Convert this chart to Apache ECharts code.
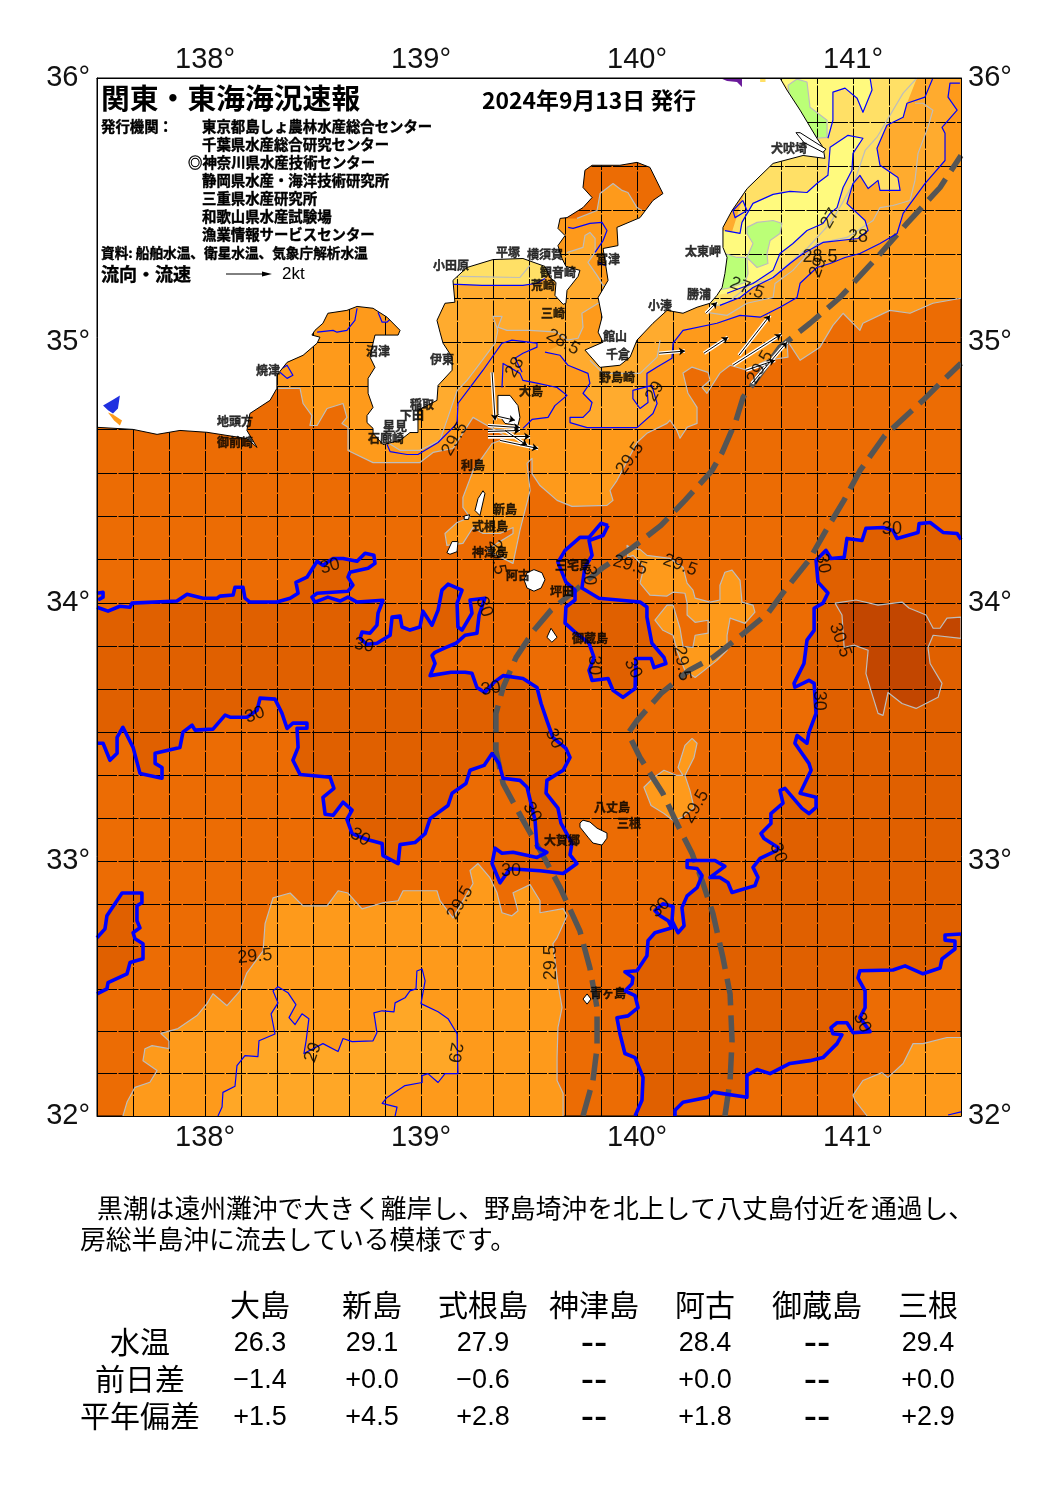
<!DOCTYPE html>
<html><head><meta charset="utf-8">
<style>html,body{margin:0;padding:0;background:#fff}#c{width:1064px;height:1505px}</style>
<script src="https://cdn.jsdelivr.net/npm/echarts@6/dist/echarts.min.js"></script>
</head><body><div id="c"></div>
<script>
// ---------- ticks ----------
const lonLabels=[138,139,140,141];
const latLabels=[32,33,34,35,36];
const gridLons=[137.667,137.833,138,138.167,138.333,138.5,138.667,138.833,139,139.167,139.333,139.5,139.667,139.833,140,140.167,140.333,140.5,140.667,140.833,141,141.167,141.333];
const gridLats=[32.167,32.333,32.5,32.667,32.833,33,33.167,33.333,33.5,33.667,33.833,34,34.167,34.333,34.5,34.667,34.833,35,35.167,35.333,35.5,35.667,35.833];
// ---------- 30 degree contours ----------
const c30West=[[137.5,33.984],[137.551,33.969],[137.606,33.988],[137.653,33.984],[137.662,34],[137.87,34.008],[137.917,34.034],[137.991,34.019],[138.056,34.019],[138.069,34.027],[138.13,34.031],[138.139,34.061],[138.176,34.061],[138.185,34.019],[138.208,34.004],[138.333,34.004],[138.394,34.019],[138.431,34.038],[138.421,34.08],[138.472,34.1],[138.519,34.161],[138.546,34.146],[138.593,34.172],[138.639,34.172],[138.704,34.161],[138.741,34.192],[138.782,34.184],[138.787,34.153],[138.755,34.134],[138.671,34.119],[138.662,34.1],[138.685,34.069],[138.662,34.046],[138.519,34.038],[138.495,34.023],[138.509,34.004],[138.569,34.023],[138.625,34.008],[138.662,34.023],[138.704,34.004],[138.824,34.011],[138.801,33.961],[138.796,33.915],[138.764,33.884],[138.727,33.888],[138.718,33.864],[138.75,33.841],[138.796,33.845],[138.857,33.876],[138.866,33.946],[138.903,33.95],[138.912,33.908],[138.949,33.896],[138.995,33.908],[139.009,33.969],[139.051,33.915],[139.079,33.973],[139.097,34.05],[139.125,34.073],[139.19,34.05],[139.167,34],[139.171,33.908],[139.19,33.896],[139.236,33.961],[139.227,34.012],[139.296,34.019],[139.269,33.954],[139.259,33.884],[139.204,33.876],[139.162,33.845],[139.116,33.829],[139.065,33.81],[139.051,33.798],[139.065,33.767],[139.042,33.72],[139.139,33.733],[139.204,33.733],[139.236,33.729],[139.259,33.674],[139.296,33.655],[139.338,33.694],[139.38,33.72],[139.472,33.709],[139.537,33.674],[139.556,33.612],[139.583,33.546],[139.611,33.48],[139.671,33.438],[139.69,33.403],[139.658,33.353],[139.583,33.314],[139.579,33.264],[139.634,33.206],[139.648,33.148],[139.699,33.07],[139.69,33.024],[139.722,32.99],[139.658,32.951],[139.551,32.962],[139.412,32.97],[139.366,32.915],[139.329,32.99],[139.343,33.05],[139.375,33.03],[139.426,33.034],[139.537,33.014],[139.583,33.034],[139.537,33.053],[139.528,33.159],[139.491,33.287],[139.458,33.314],[139.38,33.322],[139.361,33.38],[139.329,33.418],[139.292,33.372],[139.227,33.353],[139.208,33.302],[139.144,33.264],[139.125,33.216],[139.042,33.165],[139.019,33.107],[138.972,33.072],[138.903,33.064],[138.894,32.99],[138.824,33.021],[138.82,33.068],[138.75,33.084],[138.681,33.107],[138.657,33.162],[138.681,33.198],[138.639,33.229],[138.593,33.178],[138.556,33.182],[138.546,33.248],[138.597,33.283],[138.579,33.326],[138.44,33.337],[138.407,33.392],[138.431,33.442],[138.426,33.516],[138.472,33.516],[138.472,33.536],[138.407,33.536],[138.38,33.516],[138.356,33.575],[138.324,33.629],[138.255,33.633],[138.241,33.586],[138.194,33.559],[138.116,33.559],[138.093,33.567],[138.037,33.513],[137.954,33.509],[137.94,33.528],[137.898,33.501],[137.884,33.442],[137.769,33.419],[137.769,33.38],[137.801,33.364],[137.801,33.322],[137.699,33.341],[137.667,33.442],[137.62,33.52],[137.593,33.481],[137.593,33.419],[137.56,33.392],[137.528,33.458],[137.5,33.458]];
const c30Corner=[[137.5,34.038],[137.528,34.042],[137.528,34.023],[137.505,34.012]];
const c30SW=[[137.5,32.7],[137.537,32.735],[137.546,32.786],[137.616,32.875],[137.708,32.875],[137.708,32.837],[137.685,32.825],[137.685,32.767],[137.699,32.739],[137.667,32.72],[137.676,32.696],[137.713,32.677],[137.713,32.618],[137.653,32.603],[137.639,32.559],[137.551,32.524],[137.546,32.5],[137.5,32.48]];
const c30Miyake=[[139.866,34.299],[139.833,34.307],[139.778,34.253],[139.736,34.253],[139.667,34.203],[139.634,34.157],[139.671,34.081],[139.713,34.05],[139.713,34.012],[139.671,33.985],[139.667,33.923],[139.713,33.888],[139.778,33.845],[139.801,33.79],[139.778,33.74],[139.792,33.701],[139.866,33.709],[139.889,33.663],[139.935,33.636],[139.991,33.67],[139.995,33.786],[140.065,33.786],[140.079,33.751],[140.134,33.767],[140.125,33.79],[140.069,33.845],[140.046,33.946],[140.046,33.985],[140.014,34.004],[139.824,34.019],[139.745,34.058],[139.759,34.138],[139.792,34.184],[139.778,34.241],[139.843,34.26],[139.866,34.299]];
const c30East=[[141.5,34.245],[141.482,34.268],[141.417,34.272],[141.357,34.31],[141.306,34.306],[141.301,34.272],[141.204,34.249],[141.185,34.28],[141.139,34.291],[141.06,34.288],[141.042,34.241],[140.972,34.249],[140.959,34.176],[140.898,34.172],[140.875,34.203],[140.829,34.165],[140.838,34.081],[140.884,34.039],[140.861,34],[140.82,33.98],[140.82,33.895],[140.787,33.857],[140.773,33.767],[140.727,33.69],[140.731,33.675],[140.796,33.702],[140.82,33.69],[140.829,33.574],[140.796,33.5],[140.787,33.458],[140.741,33.488],[140.731,33.458],[140.796,33.38],[140.806,33.353],[140.755,33.264],[140.829,33.248],[140.829,33.209],[140.796,33.185],[140.764,33.205],[140.685,33.283],[140.662,33.275],[140.676,33.225],[140.62,33.185],[140.62,33.146],[140.574,33.107],[140.588,33.088],[140.653,33.053],[140.648,33.041],[140.57,33.01],[140.537,32.975],[140.56,32.936],[140.546,32.904],[140.44,32.877],[140.421,32.916],[140.384,32.936],[140.338,32.936],[140.407,32.979],[140.361,33.002],[140.232,33.002],[140.232,32.975],[140.278,32.971],[140.301,32.943],[140.278,32.896],[140.232,32.864],[140.208,32.818],[140.218,32.747],[140.19,32.72],[140.162,32.767],[140.167,32.822],[140.12,32.833],[140.083,32.806],[140.107,32.786],[140.144,32.767],[140.162,32.739],[140.083,32.72],[140.051,32.689],[140.046,32.63],[140,32.571],[139.944,32.567],[139.981,32.544],[139.977,32.52],[139.944,32.492],[139.991,32.473],[140.005,32.426],[139.958,32.394],[139.907,32.387],[139.921,32.324],[139.944,32.246],[139.991,32.23],[140.028,32.152],[140.023,32.062],[139.991,32]];
const c30SE=[[140.176,32],[140.176,32.023],[140.213,32.054],[140.329,32.074],[140.352,32.094],[140.509,32.074],[140.509,32.16],[140.556,32.183],[140.616,32.167],[140.708,32.207],[140.801,32.218],[140.861,32.23],[140.926,32.285],[140.949,32.32],[140.907,32.324],[140.898,32.348],[140.926,32.367],[140.972,32.367],[141,32.328],[141.079,32.332],[141.032,32.387],[141.056,32.426],[141.056,32.492],[141.023,32.543],[141.032,32.571],[141.185,32.574],[141.241,32.59],[141.324,32.559],[141.403,32.582],[141.412,32.617],[141.472,32.656],[141.472,32.687],[141.426,32.691],[141.426,32.711],[141.5,32.715]];
const c305=[[140.917,34],[141.014,34.012],[141.116,33.992],[141.227,34.004],[141.259,33.981],[141.338,33.954],[141.371,33.903],[141.403,33.903],[141.435,33.942],[141.5,33.946],[141.5,33.864],[141.371,33.876],[141.347,33.829],[141.357,33.767],[141.412,33.69],[141.394,33.636],[141.292,33.593],[141.227,33.612],[141.162,33.655],[141.139,33.566],[141.116,33.574],[141.083,33.663],[141.06,33.728],[141.07,33.818],[141.005,33.838],[140.959,33.829],[140.949,33.954],[140.917,34]];
// ---------- 29.5 degree contours ----------
const c295East=[[140.014,34.077],[140.032,34.138],[139.982,34.184],[139.958,34.176],[139.954,34.222],[139.977,34.211],[140.014,34.207],[140.046,34.184],[140.153,34.172],[140.213,34.138],[140.232,34.077],[140.259,34.05],[140.269,34.019],[140.338,34.004],[140.384,34.012],[140.384,34.069],[140.407,34.119],[140.44,34.127],[140.477,34.088],[140.486,34.004],[140.537,33.992],[140.546,33.965],[140.5,33.922],[140.431,33.942],[140.417,33.876],[140.417,33.818],[140.37,33.779],[140.269,33.713],[140.222,33.74],[140.185,33.818],[140.167,33.876],[140.12,33.895],[140.083,33.934],[140.139,33.992],[140.167,33.992],[140.199,33.903],[140.213,33.833],[140.259,33.829],[140.269,33.876],[140.329,33.884],[140.329,33.934],[140.269,33.926],[140.232,33.954],[140.232,34],[140.222,34.038],[140.167,34.042],[140.139,34.027],[140.06,34.031],[140.014,34.077]];
const c295Hachijo=[[140.255,33.477],[140.278,33.458],[140.264,33.403],[140.222,33.333],[140.245,33.275],[140.264,33.209],[140.208,33.17],[140.167,33.158],[140.125,33.185],[140.065,33.216],[140.032,33.287],[140.079,33.326],[140.125,33.353],[140.185,33.333],[140.213,33.333],[140.19,33.364],[140.222,33.45],[140.255,33.477]];
const c295SE=[[141.5,32.309],[141.435,32.309],[141.324,32.285],[141.278,32.285],[141.232,32.207],[141.162,32.152],[141.134,32.171],[141.046,32.14],[141,32.082],[141.009,32.062],[141.065,32]];
const c295South=[[137.62,32],[137.639,32.055],[137.676,32.113],[137.745,32.133],[137.778,32.179],[137.713,32.218],[137.722,32.265],[137.755,32.277],[137.833,32.265],[137.833,32.296],[137.796,32.325],[137.875,32.344],[137.963,32.395],[138.009,32.442],[138.037,32.481],[138.102,32.434],[138.162,32.492],[138.194,32.563],[138.269,32.649],[138.278,32.755],[138.315,32.856],[138.394,32.875],[138.454,32.825],[138.565,32.825],[138.616,32.884],[138.662,32.875],[138.727,32.813],[138.824,32.837],[138.894,32.845],[138.917,32.884],[139.074,32.884],[139.088,32.845],[139.148,32.778],[139.241,32.912],[139.227,32.963],[139.264,32.99],[139.319,32.935],[139.352,32.876],[139.375,32.798],[139.421,32.786],[139.449,32.806],[139.426,32.876],[139.505,32.908],[139.551,32.845],[139.551,32.798],[139.658,32.814],[139.676,32.786],[139.63,32.7],[139.611,32.677],[139.634,32.52],[139.653,32.426],[139.634,32.348],[139.63,32.23],[139.63,32.14],[139.658,32.089],[139.658,32]];
const c295North=[[138.338,34.824],[138.44,34.824],[138.454,34.766],[138.495,34.72],[138.486,34.682],[138.519,34.682],[138.565,34.747],[138.639,34.766],[138.657,34.713],[138.634,34.69],[138.662,34.675],[138.662,34.586],[138.778,34.54],[138.995,34.54],[139.056,34.579],[139.148,34.594],[139.241,34.713],[139.306,34.682],[139.403,34.636],[139.329,34.613],[139.241,34.509],[139.194,34.406],[139.194,34.368],[139.227,34.33],[139.167,34.31],[139.111,34.268],[139.12,34.222],[139.194,34.23],[139.241,34.291],[139.287,34.268],[139.366,34.268],[139.426,34.291],[139.426,34.268],[139.352,34.23],[139.306,34.203],[139.426,34.153],[139.458,34.28],[139.505,34.433],[139.491,34.537],[139.514,34.556],[139.514,34.498],[139.551,34.452],[139.63,34.395],[139.699,34.372],[139.861,34.376],[139.889,34.395],[139.875,34.433],[139.907,34.471],[140,34.617],[140.046,34.652],[140.139,34.69],[140.153,34.702],[140.185,34.663],[140.199,34.633],[140.232,34.675],[140.278,34.69],[140.278,34.751],[140.236,34.805],[140.213,34.882],[140.255,34.905],[140.329,34.885],[140.338,34.855],[140.301,34.828],[140.324,34.805],[140.384,34.882],[140.431,34.912],[140.509,34.893],[140.602,34.931],[140.699,34.943],[140.694,35.008],[140.755,34.931],[140.847,34.981],[140.907,35.064],[140.954,35.11],[141.032,35.045],[141.046,35.072],[141.171,35.121],[141.264,35.11],[141.37,35.148],[141.5,35.167]];
const c295Bay=[[139.722,35.47],[139.815,35.5],[139.829,35.564],[139.889,35.602],[139.931,35.576],[139.958,35.568],[140,35.511],[140.023,35.5]];
// ---------- 29 degree contours ----------
const c29South=[[138.06,32],[138.079,32.035],[138.083,32.093],[138.139,32.117],[138.148,32.198],[138.185,32.238],[138.245,32.234],[138.25,32.296],[138.324,32.323],[138.306,32.402],[138.338,32.445],[138.315,32.492],[138.338,32.508],[138.384,32.485],[138.421,32.438],[138.389,32.387],[138.417,32.36],[138.449,32.402],[138.481,32.383],[138.468,32.296],[138.458,32.246],[138.546,32.285],[138.616,32.254],[138.639,32.305],[138.681,32.293],[138.778,32.296],[138.796,32.328],[138.782,32.406],[138.82,32.414],[138.875,32.41],[138.88,32.445],[138.926,32.465],[138.949,32.492],[138.977,32.5],[138.981,32.57],[139.005,32.578],[139.019,32.531],[139,32.442],[139.079,32.41],[139.125,32.383],[139.167,32.324],[139.171,32.167],[139.111,32.167],[139.079,32.132],[139.032,32.167],[139.005,32.159],[139.005,32.132],[138.926,32.12],[138.843,32.073],[138.82,32.05],[138.889,32.035],[138.88,32]];
const c29Izu=[[138.843,34.609],[138.857,34.582],[138.935,34.571],[138.986,34.571],[139.079,34.617],[139.167,34.69],[139.171,34.766],[139.241,34.843],[139.287,34.893],[139.375,34.996],[139.421,35.008],[139.537,34.996],[139.537,34.981],[139.472,34.958],[139.435,34.939],[139.468,34.885]];
const c29Boso1=[[139.574,34.962],[139.644,34.95],[139.681,34.912],[139.773,34.881],[139.782,34.843],[139.75,34.805],[139.792,34.77],[139.782,34.74],[139.75,34.713],[139.69,34.713],[139.69,34.693],[139.769,34.674],[140,34.674],[140.074,34.728],[140.093,34.766],[140.069,34.835]];
const c29Loop=[[140.069,34.835],[139.981,34.816],[139.981,34.785],[140.014,34.747],[140.051,34.77],[140.046,34.835]];
const c29Boso2=[[140.046,34.835],[140.046,34.881],[140.093,34.905],[140.162,34.939],[140.167,34.996],[140.213,35.045],[140.37,35.072],[140.477,35.102],[140.57,35.095],[140.662,35.133],[140.741,35.17],[140.755,35.224],[140.833,35.284],[140.894,35.299],[140.963,35.322],[141.032,35.337],[141.125,35.375],[141.204,35.413],[141.232,35.489],[141.333,35.602],[141.426,35.689],[141.426,35.792],[141.412,35.814],[141.482,35.879],[141.44,35.928],[141.449,35.981],[141.495,35.981]];
const c29Oshima=[[139.472,34.671],[139.514,34.705],[139.588,34.713],[139.62,34.758],[139.676,34.797],[139.63,34.827],[139.542,34.843],[139.472,34.854],[139.458,34.881],[139.38,34.919],[139.375,34.827]];
const c29Bay=[[139.681,35.436],[139.704,35.432],[139.782,35.451],[139.838,35.455],[139.861,35.424],[139.843,35.386],[139.806,35.341]];
const c29Bay2=[[139.819,35.303],[139.852,35.292]];
const c29Suruga1=[[138.519,35.038],[138.593,35.045],[138.611,35.038],[138.657,35.045],[138.694,35.083],[138.704,35.129]];
const c29Suruga2=[[138.801,35.114],[138.82,35.076],[138.843,35.076],[138.866,35.095]];
const c29Yaizu=[[138.343,34.893],[138.38,34.912],[138.407,34.874],[138.38,34.862],[138.347,34.885]];
const c29Corner=[[141.44,32.004],[141.5,32.016]];
// ---------- 28.5 and colder ----------
const c285Sagami=[[138.843,34.618],[138.903,34.587],[138.995,34.587],[139.088,34.625],[139.167,34.815],[139.213,34.854],[139.259,34.904],[139.343,34.996],[139.356,35.045],[139.333,35.098],[139.375,35.098],[139.356,35.057],[139.398,35.045],[139.505,35.045],[139.63,35.038],[139.676,35.008],[139.727,35.015],[139.75,35.057],[139.745,35.11],[139.82,35.148],[139.857,35.14],[139.875,35.216],[139.843,35.216],[139.815,35.254],[139.773,35.303],[139.806,35.341],[139.806,35.394],[139.782,35.417],[139.759,35.405],[139.75,35.36],[139.704,35.348],[139.676,35.341]];
const c285BosoEast=[[141.287,35.905],[141.324,35.905],[141.37,35.879],[141.347,35.814],[141.301,35.716],[141.287,35.614],[141.264,35.538],[141.185,35.519],[141.125,35.511],[141.093,35.462],[140.972,35.398],[140.833,35.375],[140.722,35.273],[140.639,35.223],[140.63,35.17],[140.509,35.148],[140.417,35.102],[140.315,35.114]];
const c285BosoInner=[[141.296,36],[141.232,35.943],[141.111,35.777],[141.056,35.727],[141.009,35.614],[140.949,35.526],[140.894,35.451],[140.787,35.356],[140.676,35.28],[140.616,35.235],[140.537,35.227],[140.477,35.189],[140.417,35.148],[140.338,35.133]];
const c285BosoSouth=[[139.782,34.931],[139.843,34.881],[140.014,34.881],[140.093,34.943],[140.107,35.008]];
const c28Sagami=[[139.144,35.22],[139.171,35.22],[139.282,35.216],[139.389,35.216],[139.472,35.216],[139.537,35.224],[139.574,35.242]];
const c28SagamiGray=[[139.181,35.25],[139.458,35.246],[139.505,35.292]];
const c28Boso=[[141.37,36],[141.333,35.928],[141.25,35.905],[141.232,35.852],[141.157,35.822],[141.111,35.735],[141.125,35.671],[141.208,35.625],[141.218,35.576],[141.125,35.576],[141.116,35.614],[141.07,35.583],[141.032,35.633],[141,35.602],[140.972,35.526],[141.056,35.462],[141.07,35.424],[141.023,35.394],[140.861,35.379],[140.769,35.337],[140.708,35.299],[140.63,35.246],[140.537,35.208],[140.477,35.17],[140.384,35.14]];
const c27Top=[[141.079,36],[141.088,35.955],[141.046,35.871],[141.019,35.924],[140.963,35.962],[140.907,35.947],[140.907,35.841],[140.884,35.773]];
const c27Main=[[140.407,35.424],[140.477,35.413],[140.486,35.455],[140.537,35.527],[140.63,35.561],[140.708,35.572],[140.787,35.568],[140.833,35.602],[140.884,35.633],[140.894,35.739],[140.977,35.784],[141.046,35.773],[141,35.716],[140.995,35.652],[140.954,35.587],[140.926,35.511],[140.894,35.489],[140.861,35.451],[140.787,35.424],[140.722,35.375],[140.662,35.337],[140.63,35.273],[140.537,35.223],[140.477,35.205],[140.417,35.186]];
const c27Loop=[[140.49,35.538],[140.509,35.5],[140.454,35.473],[140.444,35.5],[140.49,35.538]];
const c265A=[[140.509,35.436],[140.556,35.455],[140.63,35.462],[140.671,35.451],[140.662,35.413],[140.616,35.386],[140.602,35.337],[140.606,35.299],[140.556,35.284],[140.509,35.322],[140.537,35.375],[140.509,35.413],[140.509,35.436]];
const c265B=[[140.407,35.337],[140.463,35.322],[140.509,35.322],[140.514,35.261],[140.5,35.227],[140.421,35.205],[140.361,35.197],[140.361,35.337]];
const c265C=[[140.699,35.973],[140.741,35.996],[140.787,35.985],[140.801,35.89],[140.88,35.841],[140.88,35.776],[140.833,35.773],[140.708,35.917],[140.699,35.973]];
// ---------- land ----------
const honshu=[[137.5,34.675],[137.667,34.667],[137.778,34.648],[137.884,34.663],[138.009,34.656],[138.194,34.632],[138.241,34.598],[138.194,34.663],[138.208,34.728],[138.301,34.778],[138.333,34.824],[138.333,34.874],[138.38,34.923],[138.454,34.95],[138.519,34.996],[138.532,35.019],[138.495,35.027],[138.509,35.045],[138.546,35.072],[138.569,35.11],[138.657,35.121],[138.704,35.136],[138.778,35.129],[138.843,35.095],[138.903,35.045],[138.894,35.027],[138.787,35.027],[138.778,34.996],[138.764,34.943],[138.787,34.904],[138.755,34.862],[138.755,34.805],[138.778,34.751],[138.75,34.72],[138.75,34.693],[138.778,34.671],[138.778,34.652],[138.824,34.609],[138.903,34.625],[138.949,34.655],[138.986,34.655],[138.986,34.74],[139.074,34.778],[139.079,34.835],[139.144,34.893],[139.144,34.943],[139.102,34.996],[139.088,35.038],[139.074,35.083],[139.111,35.148],[139.157,35.152],[139.148,35.235],[139.213,35.284],[139.333,35.314],[139.472,35.318],[139.574,35.288],[139.597,35.246],[139.625,35.227],[139.62,35.178],[139.658,35.144],[139.671,35.148],[139.676,35.197],[139.727,35.25],[139.736,35.273],[139.671,35.288],[139.653,35.318],[139.634,35.367],[139.667,35.405],[139.634,35.432],[139.644,35.47],[139.676,35.473],[139.75,35.511],[139.792,35.549],[139.75,35.587],[139.759,35.652],[139.792,35.671],[139.921,35.671],[140,35.682],[140.06,35.663],[140.12,35.564],[140.074,35.538],[140.014,35.473],[139.907,35.436],[139.912,35.367],[139.843,35.356],[139.866,35.235],[139.82,35.17],[139.838,35.095],[139.82,35.038],[139.843,35],[139.759,34.97],[139.829,34.904],[139.921,34.912],[139.968,34.943],[140,35.008],[140.074,35.072],[140.139,35.121],[140.213,35.11],[140.278,35.133],[140.338,35.148],[140.37,35.178],[140.394,35.208],[140.407,35.261],[140.417,35.322],[140.398,35.36],[140.398,35.436],[140.44,35.5],[140.51,35.583],[140.63,35.678],[140.769,35.708],[140.87,35.697],[140.861,35.739],[140.833,35.773],[140.755,35.879],[140.694,35.955],[140.662,36],[137.5,36]];
const islandOshima=[[139.356,34.797],[139.412,34.797],[139.449,34.758],[139.458,34.713],[139.449,34.682],[139.389,34.69],[139.356,34.728]];
const islandNiijima=[[139.287,34.432],[139.264,34.402],[139.25,34.356],[139.273,34.337],[139.296,34.421]];
const islandKozu=[[139.12,34.194],[139.144,34.237],[139.171,34.237],[139.167,34.198],[139.134,34.188]];
const islandShikine=[[139.2,34.335],[139.225,34.34],[139.22,34.322],[139.2,34.322]];
const islandMiyake=[[139.523,34.129],[139.56,34.117],[139.574,34.09],[139.556,34.058],[139.523,34.046],[139.491,34.058],[139.477,34.09],[139.491,34.117]];
const islandMikura=[[139.602,33.903],[139.63,33.868],[139.606,33.849],[139.583,33.868]];
const islandHachijo=[[139.736,33.148],[139.75,33.159],[139.782,33.152],[139.815,33.128],[139.861,33.109],[139.861,33.089],[139.838,33.062],[139.796,33.07],[139.773,33.093],[139.736,33.132]];
const islandAoga=[[139.769,32.48],[139.787,32.46],[139.769,32.44],[139.75,32.46]];
const islandTone=[[140.736,35.794],[140.755,35.794],[140.875,35.732],[140.861,35.72],[140.773,35.757]];
const lakeHamana=[[137.528,34.758],[137.57,34.778],[137.606,34.797],[137.597,34.747],[137.574,34.728],[137.551,34.74]];
const lakeHamanaSouth=[[137.551,34.732],[137.574,34.724],[137.616,34.701],[137.606,34.682],[137.579,34.701]];
const inlandPurple=[[140.384,36],[140.486,36],[140.486,35.966],[140.463,35.985],[140.417,35.989]];
const inlandYellow=[[140.57,36],[140.595,36],[140.595,35.985],[140.57,35.985]];
// ---------- Kuroshio axes ----------
const kuroshioInner=[[139.75,32],[139.796,32.14],[139.815,32.269],[139.815,32.425],[139.782,32.582],[139.736,32.726],[139.644,32.896],[139.565,33.021],[139.472,33.159],[139.38,33.302],[139.347,33.429],[139.347,33.573],[139.38,33.674],[139.44,33.79],[139.523,33.895],[139.602,33.973],[139.838,34.134],[139.981,34.215],[140.111,34.299],[140.222,34.395],[140.347,34.509],[140.394,34.578],[140.458,34.7],[140.491,34.789],[140.662,34.981],[140.801,35.072],[140.94,35.17],[141.111,35.322],[141.25,35.451],[141.403,35.587],[141.5,35.708]];
const kuroshioOuter=[[140.407,32],[140.431,32.14],[140.44,32.296],[140.431,32.48],[140.398,32.622],[140.352,32.794],[140.306,32.912],[140.255,33.029],[140.185,33.146],[140.12,33.263],[140.014,33.403],[139.968,33.481],[139.958,33.496],[140,33.546],[140.111,33.651],[140.241,33.74],[140.352,33.79],[140.495,33.884],[140.606,33.961],[140.685,34.05],[140.796,34.165],[140.875,34.28],[140.958,34.395],[141.032,34.509],[141.148,34.644],[141.324,34.778],[141.417,34.854],[141.5,34.92]];
// ---------- current vectors: from, to ----------
const currentVectors=[[140.319,35.11,140.37,35.152],[140.102,34.958,140.222,34.966],[140.31,34.958,140.421,35.019],[140.472,34.95,140.616,35.102],[140.444,34.912,140.667,35.03],[140.505,34.893,140.639,34.931],[140.532,34.843,140.694,35],[139.329,34.885,139.343,34.702],[139.31,34.682,139.458,34.674],[139.31,34.659,139.458,34.663],[139.31,34.64,139.505,34.64],[139.366,34.625,139.542,34.594],[139.356,34.717,139.435,34.702],[139.389,34.663,139.491,34.606]];
// ---------- labels ----------
const contourLabels=[['30',138.579,34.142,15],['30',138.736,33.837,-10],['30',138.231,33.568,20],['30',138.718,33.093,-30],['30',139.324,33.67,10],['30',139.417,32.96,0],['30',139.616,33.476,-65],['30',139.514,33.19,-60],['30',139.292,33.985,-70],['30',139.778,34.107,-90],['30',139.801,33.76,-90],['30',139.981,33.748,-65],['30',140.107,32.818,45],['30',140.653,33.031,-70],['30',140.843,33.623,-90],['30',140.861,34.153,-80],['30',141.18,34.287,0],['30',141.042,32.367,-65],['30.5',140.94,33.857,-70],['29.5',138.231,32.627,5],['29.5',139.181,32.837,60],['29.5',139.602,32.602,90],['29.5',140.273,33.212,60],['29.5',139.968,34.555,55],['29.5',139.157,34.63,60],['29.5',139.968,34.146,-15],['29.5',140.2,34.146,-20],['29.5',140.208,33.767,-80],['29.5',139.352,34.177,-80],['29.5',140.57,34.904,60],['29',138.5,32.25,70],['29',139.157,32.25,-100],['29',140.083,34.812,60],['29',140.838,35.284,70],['28.5',139.657,35,-30],['28.5',140.847,35.322,0],['28',141.023,35.398,0],['28',139.435,34.904,60],['27',140.894,35.47,60],['27.5',140.509,35.205,-20]];
const placeLabels=[['小田原',139.139,35.292],['平塚',139.403,35.341],['横須賀',139.574,35.333],['富津',139.866,35.314],['観音崎',139.634,35.265],['荒崎',139.565,35.216],['三崎',139.611,35.11],['館山',139.898,35.023],['千倉',139.912,34.954],['野島崎',139.907,34.866],['小湊',140.107,35.14],['勝浦',140.287,35.181],['太東岬',140.306,35.345],['犬吠埼',140.704,35.735],['沼津',138.801,34.965],['焼津',138.292,34.893],['伊東',139.097,34.935],['稲取',139.005,34.762],['下田',138.958,34.72],['星見',138.88,34.678],['石廊崎',138.838,34.632],['地頭方',138.139,34.697],['御前崎',138.139,34.617],['大島',139.509,34.813],['利島',139.241,34.528],['新島',139.389,34.36],['式根島',139.319,34.295],['神津島',139.319,34.196],['阿古',139.449,34.108],['三宅島',139.704,34.146],['坪田',139.653,34.046],['御蔵島',139.782,33.865],['八丈島',139.884,33.21],['三根',139.963,33.148],['大賀郷',139.653,33.08],['青ヶ島',139.866,32.484]];
// ---------- text ----------
const titleText='関東・東海海況速報';
const dateText='2024年9月13日 発行';
const orgHead='発行機関：';
const orgNames=['東京都島しょ農林水産総合センター','千葉県水産総合研究センター','◎神奈川県水産技術センター','静岡県水産・海洋技術研究所','三重県水産研究所','和歌山県水産試験場','漁業情報サービスセンター'];
const sourceText='資料: 船舶水温、衛星水温、気象庁解析水温';
const legendText='流向・流速';
const legendScale='2kt';
const comment=['黒潮は遠州灘沖で大きく離岸し、野島埼沖を北上して八丈島付近を通過し、','房総半島沖に流去している模様です。'];
const tableIslands=['大島','新島','式根島','神津島','阿古','御蔵島','三根'];
const tableRows=['水温','前日差','平年偏差'];
const waterTemp=['26.3','29.1','27.9','--','28.4','--','29.4'];
const dayDiff=['−1.4','+0.0','−0.6','--','+0.0','--','+0.0'];
const normalDiff=['+1.5','+4.5','+2.8','--','+1.8','--','+2.9'];

// ---------- colours ----------
const COL={t30:'#E06000',t305:'#C24600',base:'#EC6C04',t295:'#FE9A1B',t29:'#FFAB2E',t28:'#FFE066',t27:'#FFFA7E',t265:'#BBFF77',gray:'#BDBDBD',blue:'#0000FF',kuro:'#555555'};

// Mercator projection of latitude, the map's own scale
const merc=lat=>Math.log(Math.tan(Math.PI/4+lat*Math.PI/360));
const xy=p=>[p[0],merc(p[1])];
let zc=2;
function fill(pts,color,stroke){
  const data=pts.map(xy);
  return {type:'custom',coordinateSystem:'cartesian2d',silent:true,clip:true,animation:false,z:(zc+=0.01),
    data,encode:{x:0,y:1},
    renderItem:(p,api)=>p.dataIndex===0?{type:'polygon',shape:{points:data.map(q=>api.coord(q))},
      style:{fill:color,stroke:stroke||null,lineWidth:stroke?1:0}}:null};
}
function line(pts,color,width,dash){
  return {type:'line',data:pts.map(xy),symbol:'none',silent:true,clip:true,animation:false,z:(zc+=0.01),
    lineStyle:{color,width,type:dash||'solid',cap:'butt',join:'round'}};
}
const f=COL;
const TOP=[[141.5,36],[138.338,36]];
const series=[
  fill(c30West,f.t30), fill(c30Corner,f.t30), fill(c30SW,f.t30), fill(c30Miyake,f.t30),
  fill(c30East.concat(c30SE.slice().reverse().reverse()),f.t30),
  fill(c305,f.t305),
  fill(c295North.concat(TOP),f.t295),
  fill(c295Bay.concat([[140.245,35.576],[140.06,35.765],[139.736,35.765],[139.62,35.47]]),f.base),
  fill(c295South,f.t295), fill(c29South,'#FFA726'),
  fill(c295East,f.t295), fill(c295Hachijo,f.t295),
  fill(c295SE.concat([[141.5,32]]),f.t295),
  fill(c285Sagami.concat([[139.62,35.348],[139.134,35.386],[139.042,35.159],[138.81,34.663]]),f.t29),
  fill(c29Boso1.concat(c29Boso2,[[141.5,36],[140.662,36],[140.014,35.008],[139.69,35.008]]),f.t29),
  fill(c28Sagami.concat([[139.62,35.31],[139.134,35.386]]),f.t28),
  fill(c28Boso.slice(2).concat([[140.33,35.13],[140.662,36],[141.296,36]]),f.t28),
  fill(c27Top.concat([[140.662,36]]),f.t27),
  fill(c27Main.concat([[140.38,35.18],[140.38,35.424]]),f.t27),
  fill(c265A,f.t265), fill(c265B,f.t265), fill(c265C,f.t265)
];
// graticule
const graticule=gridLons.map(v=>({coords:[xy([v,32]),xy([v,36])]})).concat(gridLats.map(v=>({coords:[xy([137.5,v]),xy([141.5,v])]})));
series.push({type:'lines',coordinateSystem:'cartesian2d',polyline:false,silent:true,animation:false,z:3,data:graticule,
  lineStyle:{color:'#000',width:1,opacity:1,type:[20,1.5]}});
// gray half-degree contours
zc=4;
[c295North,c295South,c295East,c295Hachijo,c295SE,c305,c295Bay,c285Sagami,c285BosoEast,c285BosoInner,c285BosoSouth,c28SagamiGray,c265A,c265B,c265C].forEach(c=>series.push(line(c,f.gray,1.2)));
// Kuroshio axes
zc=5;
series.push(line(kuroshioInner,f.kuro,5.5,[27,10]),line(kuroshioOuter,f.kuro,5.5,[27,10]));
// blue contours
zc=6;
[c29South,c29Izu,c29Boso1,c29Loop,c29Boso2,c29Oshima,c29Bay,c29Bay2,c29Suruga1,c29Suruga2,c29Yaizu,c29Corner,c28Sagami,c28Boso,c27Top,c27Main,c27Loop].forEach(c=>series.push(line(c,f.blue,1.2)));
[c30West,c30Corner,c30SW,c30Miyake,c30East,c30SE].forEach(c=>series.push(line(c,f.blue,3.6)));
// land and islands
zc=7;
series.push(fill(honshu,'#fff','#000'));
[islandOshima,islandNiijima,islandKozu,islandShikine,islandMiyake,islandMikura,islandHachijo,islandAoga,islandTone].forEach(c=>series.push(fill(c,'#fff','#000')));
series.push(fill(lakeHamana,'#2030E0'),fill(lakeHamanaSouth,f.t295),fill(inlandPurple,'#6A1B9A'),fill(inlandYellow,f.t28));
// current vectors
const vecData=currentVectors.map(v=>({coords:[xy([v[0],v[1]]),xy([v[2],v[3]])]}));
series.push({type:'lines',coordinateSystem:'cartesian2d',silent:true,animation:false,z:8,data:vecData,symbol:['none','none'],lineStyle:{color:'#fff',width:3.5,opacity:1,curveness:0}});
series.push({type:'lines',coordinateSystem:'cartesian2d',silent:true,animation:false,z:8.1,data:vecData,symbol:['none','arrow'],symbolSize:6,lineStyle:{color:'#000',width:1,opacity:1,curveness:0}});
// text on map
series.push({type:'scatter',symbolSize:0,silent:true,animation:false,z:9,
  data:contourLabels.map(l=>({value:xy([l[1],l[2]]),label:{show:true,position:'inside',formatter:l[0],rotate:l[3],fontFamily:'Liberation Sans',fontSize:18,color:'#000'}}))});
series.push({type:'scatter',symbolSize:0,silent:true,animation:false,z:10,
  data:placeLabels.map(l=>({value:xy([l[1],l[2]]),label:{show:true,position:'inside',formatter:l[0],fontFamily:'Noto Sans CJK JP',fontWeight:'bold',fontSize:12,color:'#000',textBorderColor:'#000',textBorderWidth:0.4}}))});

// page text
const T=(x,y,text,size,o)=>({type:'text',x,y,z:50,silent:true,style:Object.assign({text,fontSize:size,fontFamily:'Noto Sans CJK JP',fill:'#000',verticalAlign:'middle',align:'left'},o||{})});
const BOLD={fontWeight:'bold'};
const HEAVY={fontWeight:'bold',stroke:'#000',lineWidth:0.4};
const gfx=[
  T(101,98,titleText,28.8,BOLD),T(482,100,dateText,22.9,BOLD),
  T(101,127,orgHead,14.4,HEAVY),
  T(202,127,orgNames[0],14.4,HEAVY),T(202,145,orgNames[1],14.4,HEAVY),T(188,163,orgNames[2],14.4,HEAVY),
  T(202,181,orgNames[3],14.4,HEAVY),T(202,199,orgNames[4],14.4,HEAVY),T(202,217,orgNames[5],14.4,HEAVY),T(202,235,orgNames[6],14.4,HEAVY),
  T(101,253,sourceText,13.65,HEAVY),T(101,274,legendText,18,HEAVY),T(282,274,legendScale,17,{fontFamily:'Liberation Sans'}),
  {type:'line',z:50,silent:true,shape:{x1:226,y1:274,x2:268,y2:274},style:{stroke:'#000',lineWidth:1}},
  {type:'polygon',z:50,silent:true,shape:{points:[[262,271.5],[272,274],[262,276.5]]},style:{fill:'#000'}},
  T(97,1208,comment[0],25.8),T(80,1239,comment[1],25.8)
];
const colX=[260,372,483,594,705,817,928];
tableIslands.forEach((n,i)=>gfx.push(T(colX[i],1305,n,30,{align:'center'})));
tableRows.forEach((n,i)=>gfx.push(T(140,1342+37*i,n,30,{align:'center'})));
[waterTemp,dayDiff,normalDiff].forEach((r,ri)=>r.forEach((v,i)=>gfx.push(T(colX[i],1344+37*ri,v,v==='--'?40:27,{align:'center',fontFamily:'Liberation Sans'}))));

const latTicks=latLabels.map(merc);
const lonAxis=(position,margin)=>({type:'value',position,min:137.5,max:141.5,z:30,
  axisLine:{show:true,onZero:false,lineStyle:{color:'#000',width:1}},axisTick:{show:false},splitLine:{show:false},
  axisLabel:{customValues:lonLabels,formatter:v=>v+'°',fontFamily:'Liberation Sans',fontSize:29,color:'#111',margin,hideOverlap:false}});
const latAxis=(position)=>({type:'value',position,min:merc(32),max:merc(36),z:30,
  axisLine:{show:true,onZero:false,lineStyle:{color:'#000',width:1}},axisTick:{show:false},splitLine:{show:false},
  axisLabel:{customValues:latTicks,formatter:v=>latLabels[latTicks.findIndex(t=>Math.abs(t-v)<1e-6)]+'°',fontFamily:'Liberation Sans',fontSize:29,color:'#111',margin:7,hideOverlap:false}});
const chart=echarts.init(document.getElementById('c'),null,{renderer:'canvas',width:1064,height:1505});
chart.setOption({animation:false,backgroundColor:'#fff',
  grid:{left:97,top:78,width:864,height:1038,show:true,backgroundColor:f.base,borderColor:'#000',borderWidth:1},
  xAxis:[lonAxis('bottom',7),lonAxis('top',4)],
  yAxis:[latAxis('left'),latAxis('right')],
  series,graphic:{elements:gfx}});
</script></body></html>
